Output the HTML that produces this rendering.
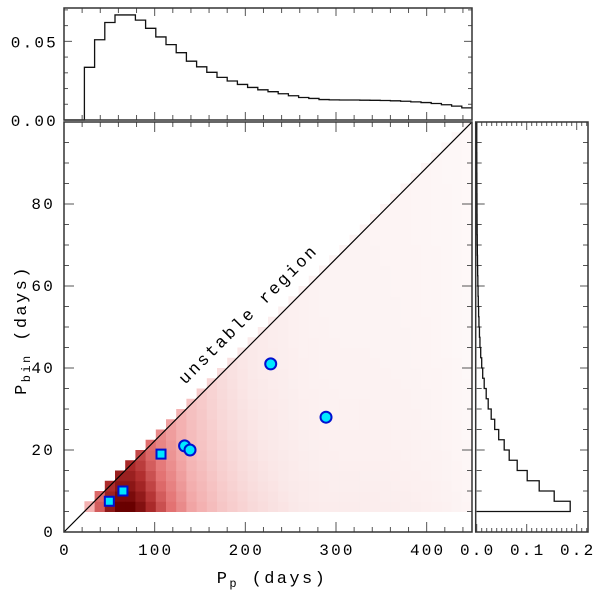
<!DOCTYPE html>
<html><head><meta charset="utf-8"><style>
html,body{margin:0;padding:0;background:#fff}
svg{display:block;font-family:"Liberation Mono",monospace}
</style></head><body>
<svg id="chart" width="600" height="593" viewBox="0 0 600 593"></svg>
<script>
// ---- data ----
const xBinStart = 22.5;
const xBinWidth = 11.25;
const topHist = [0.0335,0.051,0.062,0.0668,0.0668,0.0635,0.0583,0.0528,0.0479,0.0428,0.0374,0.0338,0.0303,0.0271,0.0248,0.0226,0.0207,0.0192,0.018,0.0167,0.0154,0.0143,0.0137,0.013,0.0128,0.0127,0.0127,0.0126,0.0125,0.0124,0.0122,0.0119,0.0115,0.0111,0.0105,0.0097,0.0088,0.0077];
const yBinStart = 5;
const yBinWidth = 2.5;
const rightHist = [0.187,0.155,0.125,0.101,0.081,0.065,0.055,0.044,0.036,0.029,0.023,0.019,0.015,0.012,0.010,0.008,0.0065,0.0055,0.0045,0.0038,0.0032,0.0027,0.0023,0.0019,0.0016,0.0013,0.0011,0.0009,0.0007,0.0006,0.0005,0.0004,0.0003,0.0002,0.0002,0.0001,0.0001,0.0001];
const squaresX = [50,65,107];
const squaresY = [7.5,10,19];
const circlesX = [133,139,228,289];
const circlesY = [21,20,41,28];
const xTicks = [0,100,200,300,400];
const yTicks = [0,20,40,60,80];
const topTicks = ["0.00","0.05"];
const rightTicks = ["0.0","0.1","0.2"];

// ---- geometry ----
const L=64,R=472,T=122,B=532;
const sx=v=>L+(v/450)*(R-L);
const sy=v=>B-(v/100)*(B-T);
const HT=8,HB=120;
const hy=v=>HB-(v/0.0712)*(HB-HT);
const RL=476.7,RR=588;
const hx=v=>RL+(v/0.2226)*(RR-RL);
const svg=document.getElementById('chart');
const NS='http://www.w3.org/2000/svg';
function mk(tag,attrs,parent){const e=document.createElementNS(NS,tag);for(const k in attrs)e.setAttribute(k,attrs[k]);(parent||svg).appendChild(e);return e;}
const FS=16, LS=2.2;

// heatmap
const maxX=Math.max(...topHist), maxY=Math.max(...rightHist);
const stops=[[0,255,255,255],[0.2,250,232,232],[0.5,243,172,172],[0.7,226,112,112],[0.85,175,45,45],[1,105,0,0]];
function col(t){t=Math.max(0,Math.min(1,t));for(let i=1;i<stops.length;i++){if(t<=stops[i][0]){const a=stops[i-1],b=stops[i],f=(t-a[0])/(b[0]-a[0]);return `rgb(${Math.round(a[1]+(b[1]-a[1])*f)},${Math.round(a[2]+(b[2]-a[2])*f)},${Math.round(a[3]+(b[3]-a[3])*f)})`;}}return 'rgb(105,0,0)';}
const heat=mk('g',{});


topHist.forEach((hv,i)=>{
  const x0=xBinStart+i*xBinWidth,x1=x0+xBinWidth;
  rightHist.forEach((rv,j)=>{
    const y0=yBinStart+j*yBinWidth,y1=y0+yBinWidth;
    if(y1>x1/4.5+0.01) return;
    const t=Math.pow(hv/maxX,1.1)*(0.6+0.4*Math.sqrt(rv/maxY));
    const r=mk('rect',{x:sx(x0),y:sy(y1),width:sx(x1)-sx(x0)+0.5,height:sy(y0)-sy(y1)+0.5,fill:col(t)},heat);
    
    
  });
});

// diagonal
const diag=mk('line',{x1:sx(0),y1:sy(0),x2:sx(450),y2:sy(100),stroke:'#000','stroke-width':1.2});


const ut=mk('text',{x:0,y:0,'font-size':17,'letter-spacing':2.4,'text-anchor':'middle',transform:`translate(252,318) rotate(-45)`});
ut.textContent='unstable region';



// ticks helper
function tick(x1,y1,x2,y2,g){mk('line',{x1,y1,x2,y2,stroke:'#555','stroke-width':1},g);}
// main axes ticks
const axg=mk('g',{});


for(let v=0;v<=450;v+=20){const big=v%100===0;const x=sx(v);const l=big?10:5;tick(x,B,x,B-l,axg);tick(x,T,x,T+l,axg);}
for(let v=0;v<=100;v+=5){const big=v%20===0;const y=sy(v);const l=big?10:5;tick(L,y,L+l,y,axg);tick(R,y,R-l,y,axg);}
mk('rect',{x:L,y:T,width:R-L,height:B-T,fill:'none',stroke:'#333','stroke-width':1.5},axg);
xTicks.forEach(v=>{const t=mk('text',{x:sx(v)+1,y:555,'font-size':FS,'letter-spacing':LS,'text-anchor':'middle'});t.textContent=v;});
yTicks.forEach(v=>{const t=mk('text',{x:55,y:sy(v)+5,'font-size':FS,'letter-spacing':LS,'text-anchor':'end'});t.textContent=v;});
const xl=mk('text',{x:272,y:583,'font-size':17,'letter-spacing':2.4,'text-anchor':'middle'});
xl.innerHTML='P<tspan font-size="12" dy="4">p</tspan><tspan dy="-4"> (days)</tspan>';


const yl=mk('text',{x:0,y:0,'font-size':17,'letter-spacing':2.4,'text-anchor':'middle',transform:'translate(26,330) rotate(-90)'});
yl.innerHTML='P<tspan font-size="12" dy="4">bin</tspan><tspan dy="-4"> (days)</tspan>';



// points
squaresX.forEach((v,i)=>{const r=mk('rect',{x:sx(v)-4.5,y:sy(squaresY[i])-4.5,width:9,height:9,fill:'#00e8ff',stroke:'#0010d0','stroke-width':2});});
circlesX.forEach((v,i)=>{const c=mk('circle',{cx:sx(v),cy:sy(circlesY[i]),r:5.5,fill:'#00e8ff',stroke:'#0010d0','stroke-width':2});});

// top histogram
const tg=mk('g',{});


for(let v=0;v<=450;v+=20){const big=v%100===0;const x=sx(v);const l=big?8:5;tick(x,HB,x,HB-l,tg);tick(x,HT,x,HT+l,tg);}
for(let k=0;k<=7;k++){const v=k*0.01;const y=hy(v);const l=(k%5===0)?8:4;tick(L,y,L+l,y,tg);tick(R,y,R-l,y,tg);}
let d=`M${sx(0)},${hy(0)}L${sx(xBinStart)},${hy(0)}`;
topHist.forEach((v,i)=>{d+=`L${sx(xBinStart+i*xBinWidth)},${hy(v)}L${sx(xBinStart+(i+1)*xBinWidth)},${hy(v)}`;});
mk('path',{d,fill:'none',stroke:'#111','stroke-width':1.3},tg);
mk('rect',{x:L,y:HT,width:R-L,height:HB-HT,fill:'none',stroke:'#333','stroke-width':1.5},tg);
topTicks.forEach(s=>{const t=mk('text',{x:58,y:hy(parseFloat(s))+6,'font-size':FS,'letter-spacing':LS,'text-anchor':'end'});t.textContent=s;});

// right histogram
const rg=mk('g',{});


for(let k=0;k<=22;k++){const x=hx(k*0.01);const l=(k%10===0)?8:4;tick(x,B,x,B-l,rg);tick(x,T,x,T+l,rg);}
for(let v=0;v<=100;v+=5){const big=v%20===0;const y=sy(v);const l=big?8:5;tick(RL,y,RL+l,y,rg);tick(RR,y,RR-l,y,rg);}
let d2=`M${hx(0)},${sy(yBinStart)}`;
rightHist.forEach((v,j)=>{d2+=`L${hx(v)},${sy(yBinStart+j*yBinWidth)}L${hx(v)},${sy(yBinStart+(j+1)*yBinWidth)}`;});
mk('path',{d:d2,fill:'none',stroke:'#111','stroke-width':1.3},rg);
mk('rect',{x:RL-1,y:T,width:RR-RL+1,height:B-T,fill:'none',stroke:'#333','stroke-width':1.5},rg);
rightTicks.forEach(s=>{const t=mk('text',{x:hx(parseFloat(s))+1,y:555,'font-size':FS,'letter-spacing':LS,'text-anchor':'middle'});t.textContent=s;});
</script>
</body></html>
